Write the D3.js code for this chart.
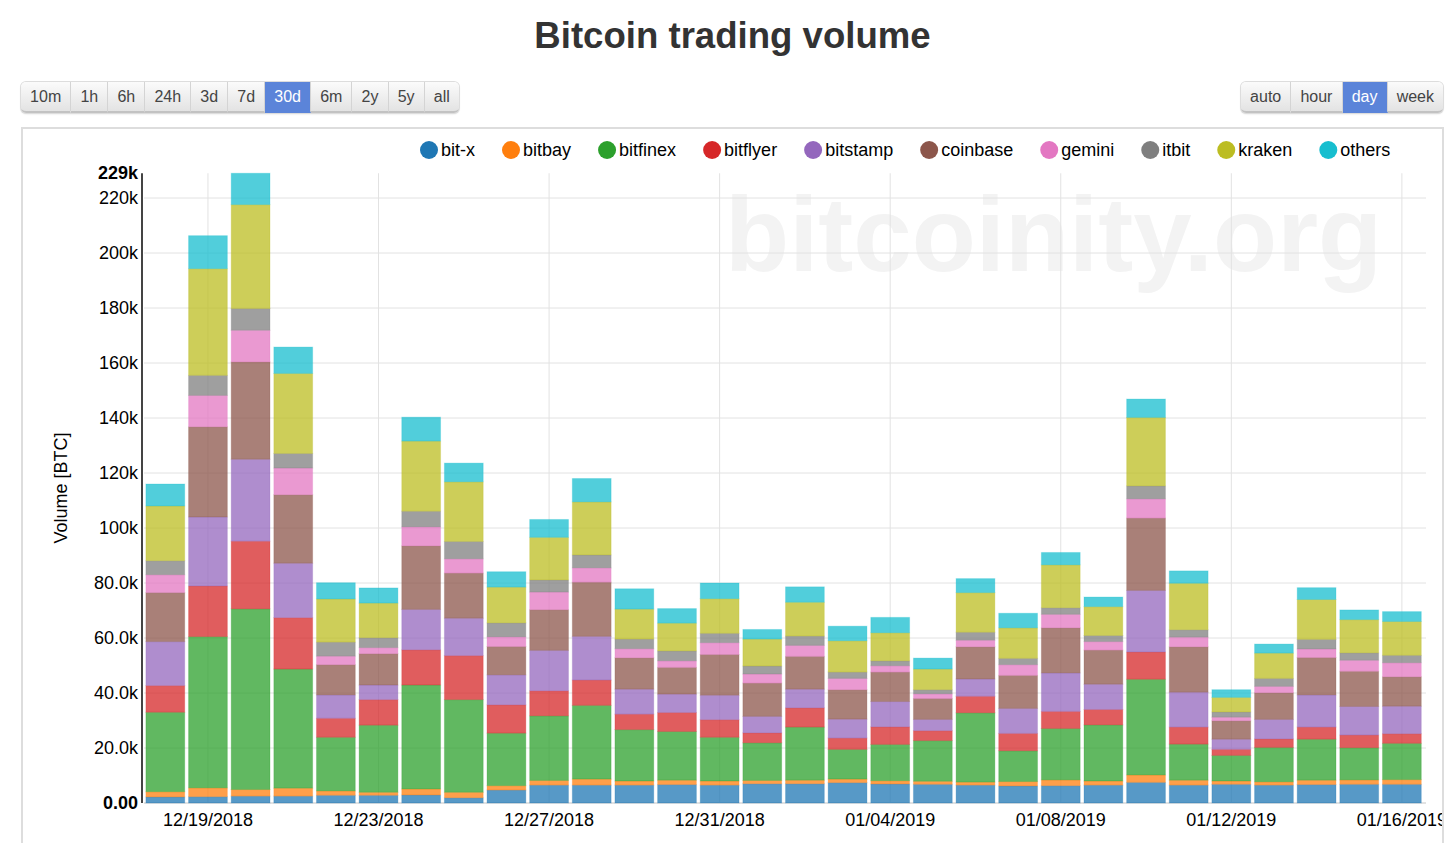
<!DOCTYPE html>
<html lang="en">
<head>
    <meta charset="UTF-8">
    <title>Bitcoin trading volume</title>
    <script src="https://d3js.org/d3.v7.min.js"></script>
    <style>
        html, body {
            margin: 0;
            height: 100%;
            overflow: hidden;
            background: #fff;
            font-family: "Liberation Sans", Arial, sans-serif;
        }
        h1 {
            position: absolute;
            left: 0;
            top: 13px;
            width: 1465px;
            margin: 0;
            text-align: center;
            font-size: 36.6px;
            line-height: 46px;
            font-weight: bold;
            color: #333;
        }
        .btn-group {
            position: absolute;
            top: 82px;
            display: flex;
            height: 31px;
            border-radius: 5px;
            box-shadow: 0 0 0 1px #ddd, 0 1px 2px rgba(0, 0, 0, .15);
        }
        .btn {
            display: flex;
            align-items: center;
            padding: 0 9.1px;
            font-size: 16px;
            color: #444;
            background: linear-gradient(#fbfbfb, #e3e3e3);
            border-right: 1px solid #d4d4d4;
            border-bottom: 2px solid #c2c2c2;
            box-sizing: border-box;
        }
        .btn:first-child { border-radius: 5px 0 0 5px; }
        .btn:last-child { border-radius: 0 5px 5px 0; border-right: 0; }
        .btn.active {
            background: #5b84d9;
            border-bottom-color: #5b84d9;
            color: #fff;
        }
        #frame {
            position: absolute;
            left: 21px;
            top: 127px;
            width: 1419px;
            height: 800px;
            border: 2px solid #ddd;
            overflow: hidden;
        }
        svg { display: block; }
        svg text { font-family: "Liberation Sans", Arial, sans-serif; }
    </style>
</head>
<body>
    <h1>Bitcoin trading volume</h1>
    <div class="btn-group" id="ranges" style="left:21px"></div>
    <div class="btn-group" id="grouping" style="left:1241px"></div>
    <div id="frame"></div>

<script>
    var rangeButtons = ['10m', '1h', '6h', '24h', '3d', '7d', '30d', '6m', '2y', '5y', 'all'];
    var groupButtons = ['auto', 'hour', 'day', 'week'];

    var days = ['12/18/2018', '12/19/2018', '12/20/2018', '12/21/2018', '12/22/2018', '12/23/2018',
        '12/24/2018', '12/25/2018', '12/26/2018', '12/27/2018', '12/28/2018', '12/29/2018',
        '12/30/2018', '12/31/2018', '01/01/2019', '01/02/2019', '01/03/2019', '01/04/2019',
        '01/05/2019', '01/06/2019', '01/07/2019', '01/08/2019', '01/09/2019', '01/10/2019',
        '01/11/2019', '01/12/2019', '01/13/2019', '01/14/2019', '01/15/2019', '01/16/2019'];
    var dayTicks = ['12/19/2018', '12/23/2018', '12/27/2018', '12/31/2018',
        '01/04/2019', '01/08/2019', '01/12/2019', '01/16/2019'];

    var exchanges = ['bit-x', 'bitbay', 'bitfinex', 'bitflyer', 'bitstamp', 'coinbase', 'gemini', 'itbit', 'kraken', 'others'];

    // thousands of BTC
    var bitx = [2.2, 2.3, 2.5, 2.5, 2.8, 2.8, 2.9, 1.9, 4.7, 6.5, 6.5, 6.5, 6.7, 6.5, 7.0, 7.0, 7.4, 6.9, 6.8, 6.5, 6.2, 6.3, 6.5, 7.5, 6.5, 6.8, 6.5, 6.7, 6.8, 6.8];
    var bitbay = [1.9, 3.2, 2.4, 2.9, 1.6, 1.1, 2.2, 2.0, 1.6, 1.7, 2.2, 1.5, 1.6, 1.5, 1.2, 1.3, 1.3, 1.2, 1.1, 1.1, 1.6, 2.1, 1.5, 2.7, 1.8, 1.2, 1.2, 1.6, 1.6, 1.7];
    var bitfinex = [28.9, 55.0, 65.7, 43.3, 19.5, 24.4, 37.8, 33.7, 19.1, 23.5, 26.8, 18.7, 17.7, 15.9, 13.7, 19.3, 10.8, 13.2, 14.8, 25.2, 11.2, 18.7, 20.4, 34.8, 13.1, 9.3, 12.5, 14.9, 11.7, 13.2];
    var bitflyer = [9.7, 18.4, 24.6, 18.7, 6.9, 9.3, 12.8, 16.0, 10.3, 9.1, 9.2, 5.6, 6.9, 6.4, 3.6, 7.0, 4.1, 6.4, 3.6, 6.0, 6.3, 6.2, 5.6, 9.9, 6.2, 2.2, 3.1, 4.4, 4.6, 3.5];
    var bitstamp = [16.0, 25.1, 29.8, 19.8, 8.5, 5.3, 14.7, 13.6, 10.9, 14.7, 15.9, 9.1, 6.7, 8.9, 6.0, 6.8, 6.9, 9.2, 4.1, 6.3, 9.1, 14.0, 9.2, 22.4, 12.7, 3.7, 7.1, 11.7, 10.4, 10.0];
    var coinbase = [17.8, 32.8, 35.4, 24.9, 11.0, 11.4, 23.1, 16.4, 10.3, 14.8, 19.7, 11.4, 9.7, 14.8, 12.1, 11.9, 10.7, 10.7, 7.6, 11.7, 12.0, 16.4, 12.4, 26.3, 16.5, 6.7, 9.7, 13.6, 12.8, 10.7];
    var gemini = [6.5, 11.4, 11.5, 9.7, 3.1, 2.2, 6.9, 5.2, 3.5, 6.4, 5.2, 3.3, 2.4, 4.3, 3.3, 4.0, 4.1, 2.3, 1.7, 2.4, 3.9, 4.9, 3.1, 7.0, 3.5, 1.3, 2.3, 3.1, 4.0, 5.1];
    var itbit = [5.1, 7.3, 7.9, 5.3, 5.1, 3.6, 5.7, 6.3, 5.1, 4.4, 4.7, 3.5, 3.6, 3.4, 2.9, 3.4, 2.3, 1.8, 1.5, 2.9, 2.3, 2.4, 2.2, 4.7, 2.7, 1.9, 2.9, 3.5, 2.7, 2.7];
    var kraken = [19.9, 38.8, 37.8, 29.1, 15.7, 12.6, 25.5, 21.7, 13.0, 15.5, 19.3, 10.9, 10.1, 12.6, 9.8, 12.3, 11.4, 10.2, 7.5, 14.4, 11.1, 15.6, 10.5, 24.9, 16.9, 5.3, 9.2, 14.5, 12.1, 12.3];
    var others = [8.0, 12.0, 11.4, 9.6, 5.9, 5.5, 8.7, 6.8, 5.6, 6.5, 8.5, 7.4, 5.3, 5.7, 3.5, 5.6, 5.3, 5.6, 4.0, 5.1, 5.3, 4.5, 3.5, 6.7, 4.5, 2.8, 3.3, 4.3, 3.5, 3.6];

    var colors = d3.schemeCategory10;
    var yTicks = [0, 20, 40, 60, 80, 100, 120, 140, 160, 180, 200, 220, 229];
    var yTickLabels = ['0.00', '20.0k', '40.0k', '60.0k', '80.0k', '100k', '120k', '140k', '160k', '180k', '200k', '220k', '229k'];

    function addButtons(sel, labels, active) {
        d3.select(sel).selectAll('div')
            .data(labels)
            .enter()
            .append('div')
            .attr('class', function(d){ return d === active ? 'btn active' : 'btn'; })
            .text(function(d){ return d; });
    }
    addButtons('#ranges', rangeButtons, '30d');
    addButtons('#grouping', groupButtons, 'day');

    // the svg sits inside the frame, so the last date label gets cut at its edge
    var w = 1419, h = 714;
    var m = {left: 121, right: 16, top: 44.25, bottom: 40};
    var innerH = h - m.top - m.bottom;
    var fontSize = 18;
    var gridColor = '#e2e2e2';

    var series = [bitx, bitbay, bitfinex, bitflyer, bitstamp, coinbase, gemini, itbit, kraken, others];
    var table = days.map(function(day, i){
        var row = {day: day};
        exchanges.forEach(function(name, j){ row[name] = series[j][i]; });
        return row;
    });
    var stacked = d3.stack().keys(exchanges)(table);

    var x = d3.scaleBand()
        .domain(days)
        .range([m.left, m.left + 1279.2])
        .paddingInner(0.09)
        .paddingOuter(0.045);
    var y = d3.scaleLinear()
        .domain([0, 229])
        .range([m.top + innerH, m.top]);

    var svg = d3.select('#frame')
        .append('svg')
        .attr('width', w)
        .attr('height', h);

    // watermark
    svg.append('text')
        .attr('x', 702)
        .attr('y', 142)
        .style('font-size', '105px')
        .style('font-weight', 'bold')
        .style('fill', '#f3f3f3')
        .text('bitcoinity.org');

    // grid
    var gridY = svg.append('g')
        .attr('transform', 'translate(' + m.left + ',0)')
        .call(d3.axisLeft(y).offset(0).tickValues(yTicks.slice(1, -1)).tickSize(-(w - m.left - m.right)).tickFormat(''));
    gridY.select('.domain').remove();
    gridY.selectAll('line').style('stroke', gridColor);

    var xAxis = svg.append('g')
        .attr('transform', 'translate(0,' + y(0) + ')')
        .call(d3.axisBottom(x).offset(0).tickValues(dayTicks).tickSize(-innerH).tickPadding(10.5));
    xAxis.select('.domain').remove();
    xAxis.selectAll('line').style('stroke', gridColor);
    xAxis.selectAll('text')
        .style('font-size', fontSize + 'px')
        .style('fill', '#000');

    svg.append('line')
        .attr('x1', m.left)
        .attr('x2', w - m.right)
        .attr('y1', y(0))
        .attr('y2', y(0))
        .style('stroke', gridColor)
        .style('stroke-width', 2);

    // bars
    svg.append('g')
        .selectAll('g')
        .data(stacked)
        .enter()
        .append('g')
        .style('fill', function(d, i){ return colors[i]; })
        .style('stroke', function(d, i){ return colors[i]; })
        .selectAll('rect')
        .data(function(d){ return d; })
        .enter()
        .append('rect')
        .attr('x', function(d){ return x(d.data.day); })
        .attr('width', x.bandwidth())
        .attr('y', function(d){ return y(d[1]); })
        .attr('height', function(d){ return y(d[0]) - y(d[1]); })
        .style('fill-opacity', 0.75)
        .style('stroke-opacity', 0.25);

    // y axis
    var yAxis = svg.append('g')
        .attr('transform', 'translate(' + (m.left - 2) + ',0)')
        .call(d3.axisLeft(y).offset(0).tickValues(yTicks).tickSize(0).tickPadding(4)
            .tickFormat(function(d, i){ return yTickLabels[i]; }));
    yAxis.select('.domain')
        .style('stroke', '#444')
        .style('stroke-width', 2);
    yAxis.selectAll('text')
        .style('font-size', fontSize + 'px')
        .style('fill', '#000')
        .style('font-weight', function(d){ return d === 0 || d === 229 ? 'bold' : 'normal'; });

    svg.append('text')
        .attr('transform', 'translate(44,' + (y(0) - 315) + ') rotate(-90)')
        .attr('text-anchor', 'middle')
        .style('font-size', fontSize + 'px')
        .style('fill', '#000')
        .text('Volume [BTC]');

    // legend, each item placed after the width of the one before
    var legendX = 397;
    var legend = svg.append('g');
    exchanges.forEach(function(name, i){
        var item = legend.append('g').attr('transform', 'translate(' + legendX + ',21)');
        item.append('circle')
            .attr('cx', 9)
            .attr('r', 9)
            .style('fill', colors[i]);
        var label = item.append('text')
            .attr('x', 21)
            .attr('dy', '.35em')
            .style('font-size', fontSize + 'px')
            .style('fill', '#000')
            .text(name);
        legendX += 21 + label.node().getComputedTextLength() + 27;
    });
</script>
</body>
</html>
